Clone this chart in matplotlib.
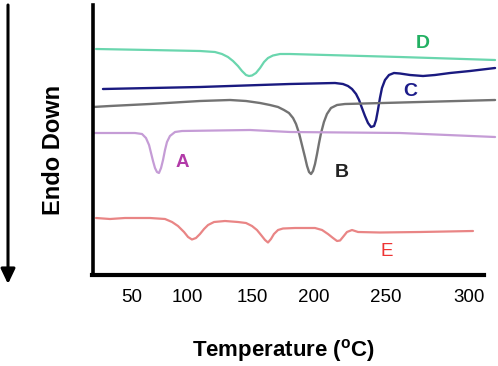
import numpy as np
import matplotlib
matplotlib.use("Agg")
import matplotlib.pyplot as plt
from matplotlib.patches import FancyArrowPatch

plt.rcParams['font.family'] = ['Liberation Sans', 'DejaVu Sans']
plt.rcParams['mathtext.fontset'] = 'custom'
plt.rcParams['mathtext.rm'] = 'Liberation Sans'
plt.rcParams['mathtext.bf'] = 'Liberation Sans:bold'

# ---- data (temperature in °C, heat flow in arbitrary units, endo down) ----
d_T  = [17.3, 66.4, 110, 121.5, 126.9, 131.5, 135.4, 139.2, 142.3, 145.4, 147.7, 150, 153.2, 156.5,
        159.7, 162.9, 166.9, 172.6, 180.6, 258.4, 315.7]
d_HF = [23.1, 23.0, 22.9, 22.8, 22.6, 22.3, 21.9, 21.4, 20.9, 20.5, 20.4, 20.45, 20.7, 21.2,
        21.8, 22.2, 22.45, 22.6, 22.6, 22.3, 22.0]

c_T  = [23.6, 110, 180.6, 214.6, 220.1, 223.6, 226.4, 229.2, 231.3, 233.3, 235.4, 237.5, 239.6, 241.7,
        243.1, 244.4, 245.8, 247.2, 249.3, 251.8, 254.8, 258.4, 264.5, 272.3, 279.5, 288.6, 300.6, 315.7]
c_HF = [19.1, 19.3, 19.6, 19.7, 19.6, 19.4, 19.1, 18.6, 18.0, 17.2, 16.4, 15.7, 15.3, 15.4,
        16.0, 17.0, 18.2, 19.2, 20.0, 20.5, 20.7, 20.65, 20.5, 20.4, 20.5, 20.7, 20.9, 21.2]

b_T  = [14.5, 30, 66.4, 110, 133.1, 145.4, 156.5, 164.5, 171.0, 175.8, 179.8, 183.1, 185.5, 187.9, 190.3,
        192.7, 194.4, 196.0, 197.6, 199.2, 200.7, 202.1, 203.5, 204.9, 206.9, 209.0, 211.8, 216.0,
        221.5, 247.9, 270.5, 315.7]
b_HF = [17.3, 17.4, 17.6, 17.9, 18.0, 17.9, 17.7, 17.5, 17.3, 17.0, 16.7, 16.2, 15.6, 14.7, 13.5,
        12.3, 11.4, 10.8, 10.6, 10.9, 11.6, 12.6, 13.7, 14.7, 15.8, 16.6, 17.2, 17.5,
        17.6, 17.7, 17.8, 18.0]

a_T  = [14.5, 52.7, 59.1, 62.7, 65.5, 67.3, 69.1, 70.9, 72.7, 74.5, 76.4, 78.2, 80.0, 81.8, 84.5,
        89.1, 95.5, 148.5, 180.6, 258.4, 315.7]
a_HF = [14.7, 14.7, 14.6, 14.2, 13.5, 12.7, 11.9, 11.2, 10.8, 10.7, 11.2, 12.0, 13.0, 13.8, 14.4,
        14.8, 14.9, 15.0, 14.8, 14.7, 14.3]

e_T  = [17.3, 30, 43.6, 66.4, 80, 86.4, 91.8, 97.3, 100.8, 103.8, 106.9, 110, 113.1, 116.2, 120.8,
        129.2, 139.2, 145.4, 150, 154, 157.3, 160.5, 162.9, 165.3, 167.7, 171, 175, 184.7, 200.7,
        205.6, 209.7, 213.2, 216, 218.1, 220.1, 222.9, 226.4, 230.6, 245.8, 270.5, 302.4]
e_HF = [6.2, 6.1, 6.2, 6.2, 6.1, 5.8, 5.4, 4.8, 4.3, 4.05, 4.2, 4.6, 5.1, 5.5, 5.8,
        5.9, 5.8, 5.7, 5.4, 5.0, 4.5, 4.0, 3.75, 4.1, 4.6, 5.0, 5.15, 5.2, 5.2,
        5.0, 4.6, 4.2, 3.9, 3.95, 4.3, 4.8, 5.0, 4.8, 4.75, 4.8, 4.9]

tick_T = [50, 100, 150, 200, 250, 300]
tick_labels = ['50', '100', '150', '200', '250', '300']

labels = ['D', 'C', 'B', 'A', 'E']
label_T = [272.3, 264.5, 219.4, 95.5, 250.6]
label_HF = [23.6, 18.8, 10.7, 11.7, 2.8]

# non-uniform axis as printed in the original figure
scale_T = [0, 50, 100, 150, 200, 250, 300, 350]
scale_u = [77, 132, 187, 252, 314, 386, 469, 552]

def fwd(t):
    return np.interp(t, scale_T, scale_u)

def inv(u):
    return np.interp(u, scale_u, scale_T)

W, H = 498, 366
fig = plt.figure(figsize=(W / 100, H / 100), dpi=100)
ax = fig.add_axes([93 / W, 1 - 275 / H, (497 - 93) / W, (275 - 5) / H])
ax.set_xscale('function', functions=(fwd, inv))

kw = dict(solid_joinstyle='round', solid_capstyle='round')
ax.plot(d_T, d_HF, color='#6ad6ae', lw=1.6, **kw)
ax.plot(c_T, c_HF, color='#1a1a80', lw=1.7, **kw)
ax.plot(b_T, b_HF, color='#737373', lw=1.7, **kw)
ax.plot(a_T, a_HF, color='#c59cd6', lw=1.6, **kw)
ax.plot(e_T, e_HF, color='#e98585', lw=1.6, **kw)

lab_colors = ['#22b062', '#1c1c8a', '#222222', '#b23aa8', '#ee3333']
lab_sizes = [14, 14, 14, 13.5, 13.5]
lab_weights = ['bold', 'bold', 'bold', 'bold', 'normal']
for s, t, h, c, fs, fw in zip(labels, label_T, label_HF, lab_colors, lab_sizes, lab_weights):
    ax.text(t, h, s, color=c, fontsize=fs, fontweight=fw, ha='center', va='center')

ax.set_xlim(inv(93), inv(497))
ax.set_ylim(0.5, 27.5)

for sp in ['top', 'right']:
    ax.spines[sp].set_visible(False)
ax.spines['left'].set_linewidth(2.6)
ax.spines['bottom'].set_linewidth(3.0)
ax.spines['bottom'].set_bounds(inv(92), inv(484))
ax.spines['left'].set_capstyle('projecting')
ax.spines['bottom'].set_capstyle('projecting')

ax.set_xticks(tick_T)
ax.set_xticklabels(tick_labels)
ax.set_yticks([])
ax.tick_params(axis='x', length=0, pad=10, labelsize=13.5)
ax.patch.set_alpha(0)

fig.text(284 / W, 1 - 351 / H, r'Temperature ($^{\mathbf{o}}$C)', fontsize=16,
         fontweight='bold', ha='center', va='center')
fig.text(53 / W, 1 - 150 / H, 'Endo Down', fontsize=17, fontweight='bold',
         rotation=90, ha='center', va='center')

arrow = FancyArrowPatch((8 / W, 1 - 5 / H), (8 / W, 1 - 284 / H), transform=fig.transFigure,
                        arrowstyle='-|>,head_length=9,head_width=4.3', mutation_scale=1,
                        lw=2.2, color='black', shrinkA=0, shrinkB=0)
fig.add_artist(arrow)

fig.savefig('out.png', dpi=100)
